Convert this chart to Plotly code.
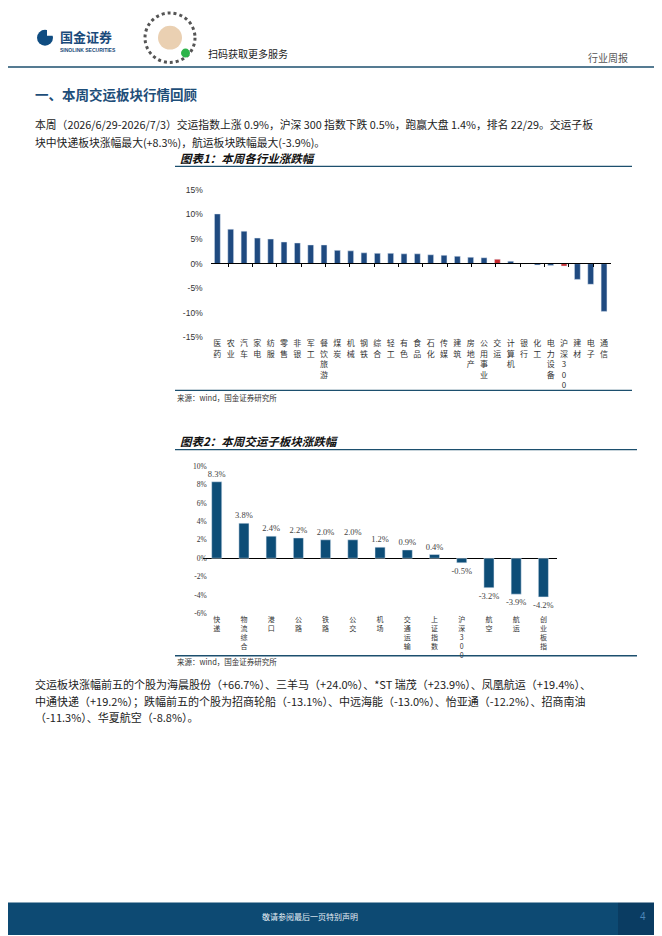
import plotly.graph_objects as go

# 页面尺寸(像素)
W, H = 662, 936
# 浏览器 body 默认有 8px 边距, 坐标整体往回挪
OFF = 8


def px(x):
    return (x - OFF) / W


def py(y):
    return 1 - (y - OFF) / H


# 图表1：本周各行业涨跌幅 (%)
industries = ["医药", "农业", "汽车", "家电", "纺服", "零售", "非银", "军工", "餐饮旅游", "煤炭",
              "机械", "钢铁", "综合", "轻工", "有色", "食品", "石化", "传媒", "建筑", "房地产",
              "公用事业", "交运", "计算机", "银行", "化工", "电力设备", "沪深300", "建材", "电子", "通信"]
ind_chg = [10.1, 7.0, 6.6, 5.2, 5.0, 4.4, 4.2, 3.8, 3.8, 2.7,
           2.6, 2.2, 2.1, 2.1, 2.0, 2.0, 1.8, 1.7, 1.5, 1.3,
           1.2, 0.9, 0.5, 0.0, -0.3, -0.4, -0.5, -3.2, -4.2, -9.7]
highlight = ["交运", "沪深300"]
ind_yticks = [-15, -10, -5, 0, 5, 10, 15]
ind_yticktext = ["-15%", "-10%", "-5%", "0%", "5%", "10%", "15%"]

# 图表2：本周交运子板块涨跌幅 (%)
sub_names = ["快递", "物流综合", "港口", "公路", "铁路", "公交", "机场", "交通运输",
             "上证指数", "沪深300", "航空", "航运", "创业板指"]
sub_chg = [8.3, 3.8, 2.4, 2.2, 2.0, 2.0, 1.2, 0.9, 0.4, -0.5, -3.2, -3.9, -4.2]
sub_yticks = [-6, -4, -2, 0, 2, 4, 6, 8, 10]
sub_yticktext = ["-6%", "-4%", "-2%", "0%", "2%", "4%", "6%", "8%", "10%"]

BLUE1 = "#1f4a80"
RED1 = "#c8282e"
BLUE2 = "#0d4d77"
LINE = "#1c4f6e"
CJK = "Noto Sans CJK SC"

ind_colors = [RED1 if n in highlight else BLUE1 for n in industries]
ind_labels = ["<br>".join(list(n)) for n in industries]
sub_labels = ["<br>".join(list(n)) for n in sub_names]
sub_text = ["%.1f%%" % v for v in sub_chg]

fig = go.Figure()

# 图1 柱子
fig.add_trace(go.Bar(x=industries, y=ind_chg, marker_color=ind_colors, width=0.44,
                     xaxis="x", yaxis="y", hoverinfo="skip"))
# 透明点, 只为了在0轴上画刻度
fig.add_trace(go.Scatter(x=industries, y=ind_chg, mode="markers", marker=dict(opacity=0),
                         xaxis="x3", yaxis="y", hoverinfo="skip"))
# 图2 柱子
fig.add_trace(go.Bar(x=sub_names, y=sub_chg, marker_color=BLUE2, width=0.37,
                     text=sub_text, textposition="outside", cliponaxis=False, constraintext="none",
                     textfont=dict(family="Liberation Serif", size=8.5, color="#444"),
                     xaxis="x2", yaxis="y2", hoverinfo="skip"))

fig.update_layout(
    width=W, height=H, autosize=False,
    margin=dict(l=0, r=0, t=0, b=0),
    paper_bgcolor="white", plot_bgcolor="white",
    showlegend=False,
    xaxis=dict(domain=[px(210.7), px(610.7)], anchor="y", showline=False, ticks="",
               tickmode="array", tickvals=industries, ticktext=ind_labels, tickangle=0,
               tickfont=dict(family=CJK, size=8, color="#333"), showgrid=False),
    xaxis3=dict(domain=[px(210.7), px(610.7)], overlaying="x", anchor="free", position=py(261),
                showline=True, linecolor="#000", linewidth=1, ticks="outside", ticklen=3,
                tickcolor="#000", tickson="boundaries", showticklabels=False, showgrid=False),
    yaxis=dict(domain=[py(336), py(186.7)], range=[-15, 15], tickmode="array",
               tickvals=ind_yticks, ticktext=ind_yticktext, showgrid=False, zeroline=False,
               showline=False, ticks="", ticklabelstandoff=7,
               tickfont=dict(family="Liberation Sans", size=8.5, color="#333")),
    xaxis2=dict(domain=[px(203.1), px(557)], anchor="y2", showline=False, ticks="",
                tickmode="array", tickvals=sub_names, ticktext=sub_labels, tickangle=0,
                tickfont=dict(family=CJK, size=7, color="#333"), showgrid=False),
    yaxis2=dict(domain=[py(615), py(466)], range=[-6, 10], tickmode="array",
                tickvals=sub_yticks, ticktext=sub_yticktext, showgrid=False, zeroline=True,
                zerolinecolor="#000", zerolinewidth=1, showline=False, ticks="", ticklabelstandoff=3,
                tickfont=dict(family="Liberation Serif", size=7.5, color="#333")),
)

shapes = []
# 页眉
shapes.append(dict(type="line", xref="paper", yref="paper", x0=px(0), x1=px(670), y0=py(62.5), y1=py(62.5),
                   line=dict(color=LINE, width=1.5)))
shapes.append(dict(type="circle", xref="paper", yref="paper", x0=px(37), x1=px(53), y0=py(41), y1=py(25),
                   fillcolor="#0f4c81", line=dict(width=0)))
shapes.append(dict(type="rect", xref="paper", yref="paper", x0=px(47), x1=px(54), y0=py(31), y1=py(24),
                   fillcolor="white", line=dict(width=0)))
# 二维码(简化)
shapes.append(dict(type="circle", xref="paper", yref="paper", x0=px(145), x1=px(195), y0=py(58), y1=py(8),
                   line=dict(color="#555", width=3, dash="dot")))
shapes.append(dict(type="circle", xref="paper", yref="paper", x0=px(158), x1=px(182), y0=py(45), y1=py(21),
                   fillcolor="#ead0b2", line=dict(width=0)))
shapes.append(dict(type="circle", xref="paper", yref="paper", x0=px(181), x1=px(190), y0=py(53), y1=py(44),
                   fillcolor="#2db34a", line=dict(width=0)))
# 图表框线
for y0, xa, xb in [(163, 175, 632), (389.5, 175, 632), (449.3, 175, 637), (657.7, 175, 637)]:
    shapes.append(dict(type="line", xref="paper", yref="paper", x0=px(xa), x1=px(xb), y0=py(y0), y1=py(y0),
                       line=dict(color=LINE, width=1.3)))
# 页脚
shapes.append(dict(type="rect", xref="paper", yref="paper", x0=px(0), x1=px(618), y0=py(940), y1=py(907),
                   fillcolor="#0d4a73", line=dict(width=0)))
shapes.append(dict(type="rect", xref="paper", yref="paper", x0=px(618), x1=px(670), y0=py(940), y1=py(907),
                   fillcolor="#0a3c62", line=dict(width=0)))
fig.update_layout(shapes=shapes)


def txt(x, y, s, size=11, color="#222", family=CJK, xanchor="left"):
    fig.add_annotation(xref="paper", yref="paper", x=px(x), y=py(y), text=s, showarrow=False,
                       xanchor=xanchor, yanchor="middle", align="left", borderpad=0,
                       font=dict(family=family, size=size, color=color))


txt(59, 31.5, "<b>国金证券</b>", size=13, color="#1a4a7a")
txt(59, 45, "<b>SINOLINK SECURITIES</b>", size=5, color="#1a4a7a", family="Liberation Sans")
txt(207, 49, "扫码获取更多服务", size=10, color="#222")
txt(587, 53, "行业周报", size=10, color="#555")

txt(34, 90, "<b>一、本周交运板块行情回顾</b>", size=13.5, color="#1e4e79")
txt(34, 120, "本周（2026/6/29-2026/7/3）交运指数上涨 0.9%，沪深 300 指数下跌 0.5%，跑赢大盘 1.4%，排名 22/29。交运子板",
    size=10.8)
txt(34, 138, "块中快递板块涨幅最大(+8.3%)，航运板块跌幅最大(-3.9%)。", size=10.8)

txt(179, 155, "<b><i>图表1：本周各行业涨跌幅</i></b>", size=11.5, color="#111")
txt(176, 397, "来源：wind，国金证券研究所", size=7.5, color="#333")
txt(179, 441, "<b><i>图表2：本周交运子板块涨跌幅</i></b>", size=11.5, color="#111")
txt(176, 664, "来源：wind，国金证券研究所", size=7.5, color="#333")

txt(34, 686, "交运板块涨幅前五的个股为海晨股份（+66.7%）、三羊马（+24.0%）、*ST 瑞茂（+23.9%）、凤凰航运（+19.4%）、")
txt(34, 703, "中通快递（+19.2%）；跌幅前五的个股为招商轮船（-13.1%）、中远海能（-13.0%）、怡亚通（-12.2%）、招商南油")
txt(34, 720, "（-11.3%）、华夏航空（-8.8%）。")

txt(310, 921, "敬请参阅最后一页特别声明", size=8, color="#e6eef5", xanchor="center")
txt(643, 921, "4", size=10, color="#4d86b8", family="Liberation Sans", xanchor="center")

fig.write_html("out.html")
